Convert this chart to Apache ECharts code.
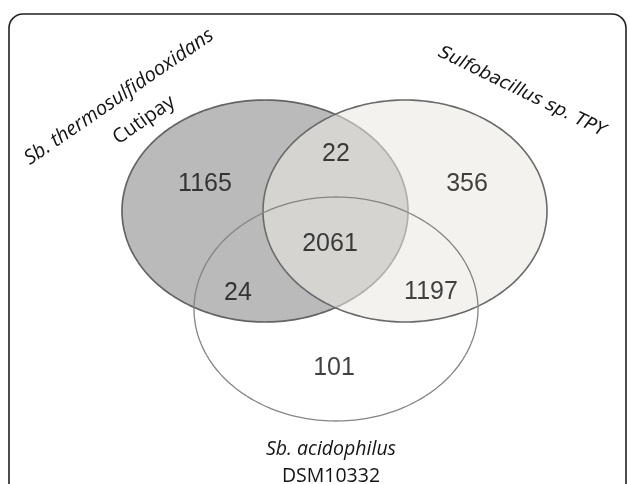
<!DOCTYPE html>
<html><head><meta charset="utf-8">
<script src="https://cdn.jsdelivr.net/npm/echarts@6/dist/echarts.min.js"></script>
<style>html,body{margin:0;padding:0;background:#fff}#c{width:629px;height:484px}</style>
</head><body><div id="c"></div>
<script>
// ---- data ----
const setNames = ['Sb. thermosulfidooxidans Cutipay', 'Sulfobacillus sp. TPY', 'Sb. acidophilus DSM10332'];
const regionNames = ['Cutipay only', 'Cutipay ∩ TPY', 'TPY only', 'all three', 'Cutipay ∩ DSM10332', 'TPY ∩ DSM10332', 'DSM10332 only'];
const regionCounts = [1165, 22, 356, 2061, 24, 1197, 101];

// ---- layout (diagram units) ----
const regionAnchors = [[205, 184], [336, 154], [467, 184], [330, 244], [238, 293], [431, 292], [334, 368]];
const ellipseCenters = [[265, 211], [405, 211], [336, 309]];
const ellipseRadii = [[143, 111], [142, 111], [142, 112]];
const ellipseStyles = [
  { fill: '#bababa', stroke: '#646464', lineWidth: 1.7 },
  { fill: 'rgba(234,232,225,0.57)', stroke: '#6a6a6a', lineWidth: 1.6 },
  { fill: 'rgba(255,255,255,0)', stroke: '#858585', lineWidth: 1.3 }
];

const chart = echarts.init(document.getElementById('c'), null, { renderer: 'canvas' });

const ellipseData = ellipseCenters.map((c, i) => [c[0], c[1], ellipseRadii[i][0], ellipseRadii[i][1], i]);
const labelData = regionAnchors.map((p, i) => ({ name: regionNames[i], value: [p[0], p[1], regionCounts[i]] }));

function txt(text, x, y, deg, font) {
  return {
    type: 'text', x: x, y: y, rotation: deg * Math.PI / 180, z: 10,
    style: {
      text: text, font: font, fill: '#141414',
      align: 'center', verticalAlign: 'middle',
      textAlign: 'center', textVerticalAlign: 'middle'
    }
  };
}

chart.setOption({
  animation: false,
  backgroundColor: '#ffffff',
  grid: { left: 0, right: 0, top: 0, bottom: 0 },
  xAxis: { type: 'value', min: 0, max: 629, show: false },
  yAxis: { type: 'value', min: 0, max: 484, inverse: true, show: false },
  graphic: [
    { type: 'rect', shape: { x: 9, y: 14, width: 617, height: 520, r: 14 },
      style: { fill: 'none', stroke: '#222222', lineWidth: 1.6 }, z: 0 },
    txt('Sb. thermosulfidooxidans', 119, 97, 34.5, 'italic 20px "Open Sans"'),
    txt('Cutipay', 144, 120, 34.5, '20px "Open Sans"'),
    txt('Sulfobacillus sp. TPY', 522, 92, -26, 'italic 18px "DejaVu Sans"'),
    txt('Sb. acidophilus', 331, 449, 0, 'italic 19.5px "Open Sans"'),
    txt('DSM10332', 331, 476, 0, '19.5px "Open Sans"')
  ],
  series: [
    {
      type: 'custom',
      silent: true,
      data: ellipseData,
      renderItem: function (params, api) {
        const cx = api.value(0), cy = api.value(1), rx = api.value(2), ry = api.value(3);
        const st = ellipseStyles[api.value(4)];
        const pts = [];
        for (let k = 0; k < 240; k++) {
          const t = k / 240 * Math.PI * 2;
          pts.push(api.coord([cx + rx * Math.cos(t), cy + ry * Math.sin(t)]));
        }
        return { type: 'polygon', shape: { points: pts }, style: { fill: st.fill, stroke: st.stroke, lineWidth: st.lineWidth } };
      }
    },
    {
      type: 'scatter',
      silent: true,
      symbolSize: 0,
      z: 5,
      data: labelData,
      label: {
        show: true, position: 'inside',
        formatter: p => String(p.value[2]),
        fontFamily: '"Liberation Sans", Arial', fontSize: 25, color: '#111111'
      }
    }
  ]
});
</script>
</body></html>
